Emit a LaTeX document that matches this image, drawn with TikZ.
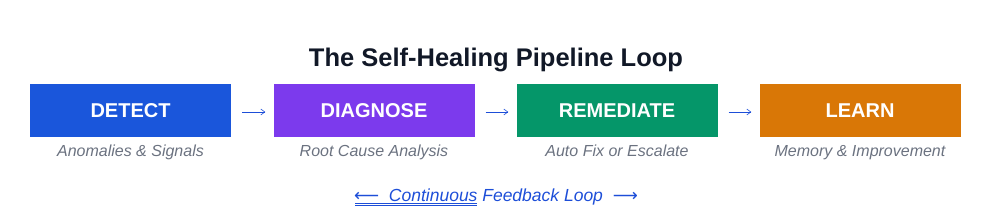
\documentclass[tikz,border=0pt]{standalone}
\usepackage{fontspec}
\setmainfont{Liberation Sans}
\newfontfamily\symfont{DejaVu Sans}
\usetikzlibrary{arrows.meta}
\definecolor{detectblue}{HTML}{1A56DB}
\definecolor{diagpurple}{HTML}{7C3AED}
\definecolor{remgreen}{HTML}{059669}
\definecolor{learnorange}{HTML}{D97706}
\definecolor{titleink}{HTML}{111827}
\definecolor{subgray}{HTML}{6B7280}
\definecolor{loopblue}{HTML}{1D4ED8}
\begin{document}
\begin{tikzpicture}[x=1pt, y=-1pt,
		stage/.style={rectangle, minimum width=201pt, minimum height=53pt, inner sep=0pt, text=white, font=\fontsize{20}{24}\selectfont\bfseries},
		sub/.style={anchor=base, inner sep=0pt, text=subgray, font=\fontsize{16}{19}\selectfont\itshape},
		flow/.style={-{Straight Barb[length=4pt, width=6pt]}, loopblue, semithick}]
		\useasboundingbox (0,0) rectangle (993,219);
		\node[anchor=base, inner sep=0pt, text=titleink, font=\fontsize{25.5}{30}\selectfont\bfseries] (title) at (496,66.7) {The Self-Healing Pipeline Loop};
		\node[stage, fill=detectblue] (detect) at (130.5,110.5) {DETECT};
		\node[stage, fill=diagpurple] (diagnose) at (374,110.5) {DIAGNOSE};
		\node[stage, fill=remgreen] (remediate) at (617,110.5) {REMEDIATE};
		\node[stage, fill=learnorange] (learn) at (860,110.5) {LEARN};
		\node[sub] (detectsub) at (130.5,157) {Anomalies \& Signals};
		\node[sub] (diagnosesub) at (374,157) {Root Cause Analysis};
		\node[sub] (remediatesub) at (617,157) {Auto Fix or Escalate};
		\node[sub] (learnsub) at (860,157) {Memory \& Improvement};
		\draw[flow] ([xshift=11pt,yshift=-1.5pt]detect.east) -- ([xshift=-8pt,yshift=-1.5pt]diagnose.west);
		\draw[flow] ([xshift=11pt,yshift=-1.5pt]diagnose.east) -- ([xshift=-8pt,yshift=-1.5pt]remediate.west);
		\draw[flow] ([xshift=11pt,yshift=-1.5pt]remediate.east) -- ([xshift=-8pt,yshift=-1.5pt]learn.west);
		% feedback line
		\node[anchor=base, inner sep=0pt, text=loopblue, font=\fontsize{17.5}{21}\selectfont\itshape] (feedback) at (496,201.5) {{\upshape\symfont ⟵}\ \ Continuous Feedback Loop\ \ {\upshape\symfont ⟶}};
		\draw[loopblue, thin] (355,203.3) -- (477,203.3);
		\draw[loopblue, thin] (355,205.6) -- (477,205.6);
	\end{tikzpicture}
\end{document}
